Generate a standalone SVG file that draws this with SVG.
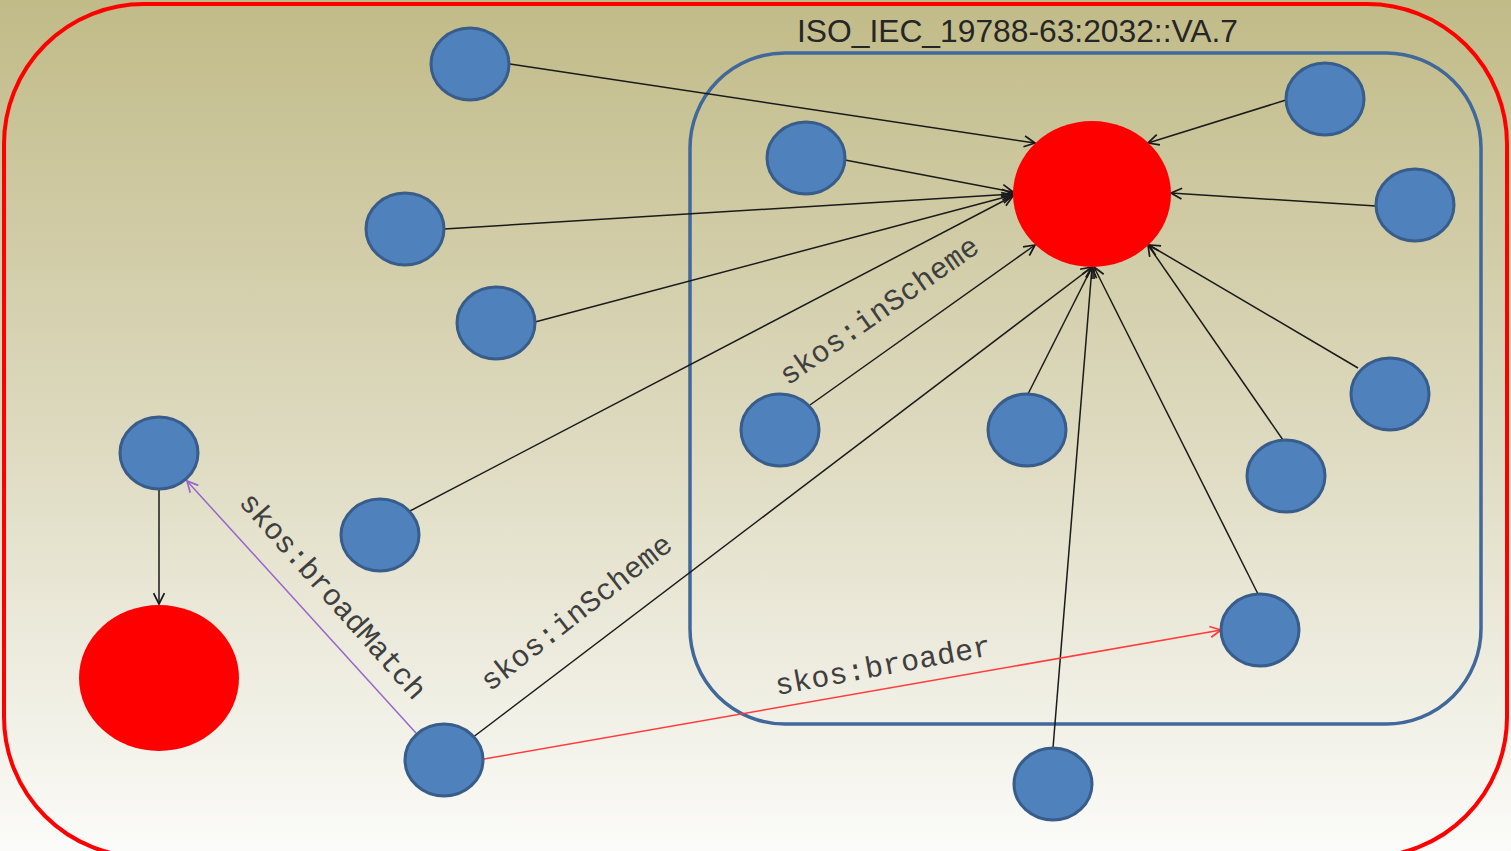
<svg xmlns="http://www.w3.org/2000/svg" width="1511" height="851" viewBox="0 0 1511 851">
<defs>
<linearGradient id="bg" x1="0" y1="0" x2="0" y2="1">
<stop offset="0" stop-color="#C1BB88"/>
<stop offset="0.5" stop-color="#DDD9BE"/>
<stop offset="1" stop-color="#FBFBF9"/>
</linearGradient>
<marker id="ak" viewBox="0 0 12 12" refX="11" refY="6" markerWidth="13" markerHeight="13" markerUnits="userSpaceOnUse" orient="auto"><path d="M1,1 L11,6 L1,11" fill="none" stroke="#1a1a1a" stroke-width="1.6"/></marker>
<marker id="ar" viewBox="0 0 12 12" refX="11" refY="6" markerWidth="13" markerHeight="13" markerUnits="userSpaceOnUse" orient="auto"><path d="M1,1 L11,6 L1,11" fill="none" stroke="#FF3B3B" stroke-width="1.6"/></marker>
<marker id="ap" viewBox="0 0 12 12" refX="11" refY="6" markerWidth="13" markerHeight="13" markerUnits="userSpaceOnUse" orient="auto"><path d="M1,1 L11,6 L1,11" fill="none" stroke="#9966CC" stroke-width="1.6"/></marker>
</defs>
<style>
.n{fill:#4F81BD;stroke:#385D8A;stroke-width:3}
.r{fill:#FF0000}
.e{fill:none;stroke:#1a1a1a;stroke-width:1.5;marker-end:url(#ak)}
.lbl{font-family:"Liberation Mono","Courier New",monospace;font-size:30px;fill:#3F3F3F}
</style>
<rect x="0" y="0" width="1511" height="851" fill="url(#bg)"/>
<g id="frame-outer"><rect x="4" y="4" width="1503" height="853" rx="140" ry="140" fill="none" stroke="#FF0000" stroke-width="4"/></g>
<g id="scheme"><rect x="690" y="53" width="791" height="671" rx="95" ry="95" fill="none" stroke="#41689A" stroke-width="3.5"/>
<text x="797" y="42" font-family="'Liberation Sans',Arial,sans-serif" font-size="31" fill="#262626" textLength="441" lengthAdjust="spacingAndGlyphs">ISO_IEC_19788-63:2032::VA.7</text></g>
<g id="connectors">
<path class="e" d="M510,64 L1035,143"/>
<path class="e" d="M845,160 L1013,192"/>
<path class="e" d="M444,229 L1013,194"/>
<path class="e" d="M535,322 L1013,195"/>
<path class="e" d="M408,512 L1013,196"/>
<path class="e" d="M810,405 L1035,245"/>
<path class="e" d="M472,738 L1092,267"/>
<path class="e" d="M1028,394 L1092,267"/>
<path class="e" d="M1053,748 L1092,267"/>
<path class="e" d="M1258,594 L1094,267"/>
<path class="e" d="M1283,440 L1148,245"/>
<path class="e" d="M1358,368 L1149,245"/>
<path class="e" d="M1286,100 L1148,143"/>
<path class="e" d="M1376,206 L1171,193"/>
<path class="e" d="M159,489 L159,604"/>
<path d="M416,733 L187,481" fill="none" stroke="#9966CC" stroke-width="1.5" marker-end="url(#ap)"/>
<path d="M484,759 L1221,630" fill="none" stroke="#FF3B3B" stroke-width="1.5" marker-end="url(#ar)"/>
<text class="lbl" transform="translate(788,386) rotate(-35)" textLength="236">skos:inScheme</text>
<text class="lbl" transform="translate(490,692) rotate(-38)" textLength="234">skos:inScheme</text>
<text class="lbl" transform="translate(238,503) rotate(48.5)" textLength="265">skos:broadMatch</text>
<text class="lbl" transform="translate(777,695) rotate(-10.5)" textLength="219">skos:broader</text>
</g>
<g id="concept-center"><ellipse class="r" cx="1092" cy="194" rx="79" ry="73"/></g>
<g id="concept-left"><ellipse class="r" cx="159" cy="678" rx="80" ry="73"/></g>
<g id="n1"><ellipse class="n" cx="470" cy="64" rx="39" ry="36"/></g>
<g id="n2"><ellipse class="n" cx="806" cy="158" rx="39" ry="36"/></g>
<g id="n3"><ellipse class="n" cx="405" cy="229" rx="39" ry="36"/></g>
<g id="n4"><ellipse class="n" cx="496" cy="323" rx="39" ry="36"/></g>
<g id="n5"><ellipse class="n" cx="380" cy="535" rx="39" ry="36"/></g>
<g id="n6"><ellipse class="n" cx="159" cy="453" rx="39" ry="36"/></g>
<g id="n7"><ellipse class="n" cx="780" cy="430" rx="39" ry="36"/></g>
<g id="n8"><ellipse class="n" cx="1027" cy="430" rx="39" ry="36"/></g>
<g id="n9"><ellipse class="n" cx="1325" cy="99" rx="39" ry="36"/></g>
<g id="n10"><ellipse class="n" cx="1415" cy="205" rx="39" ry="36"/></g>
<g id="n11"><ellipse class="n" cx="1390" cy="394" rx="39" ry="36"/></g>
<g id="n12"><ellipse class="n" cx="1286" cy="476" rx="39" ry="36"/></g>
<g id="n13"><ellipse class="n" cx="1260" cy="630" rx="39" ry="36"/></g>
<g id="n14"><ellipse class="n" cx="444" cy="760" rx="39" ry="36"/></g>
<g id="n15"><ellipse class="n" cx="1053" cy="784" rx="39" ry="36"/></g>
</svg>
